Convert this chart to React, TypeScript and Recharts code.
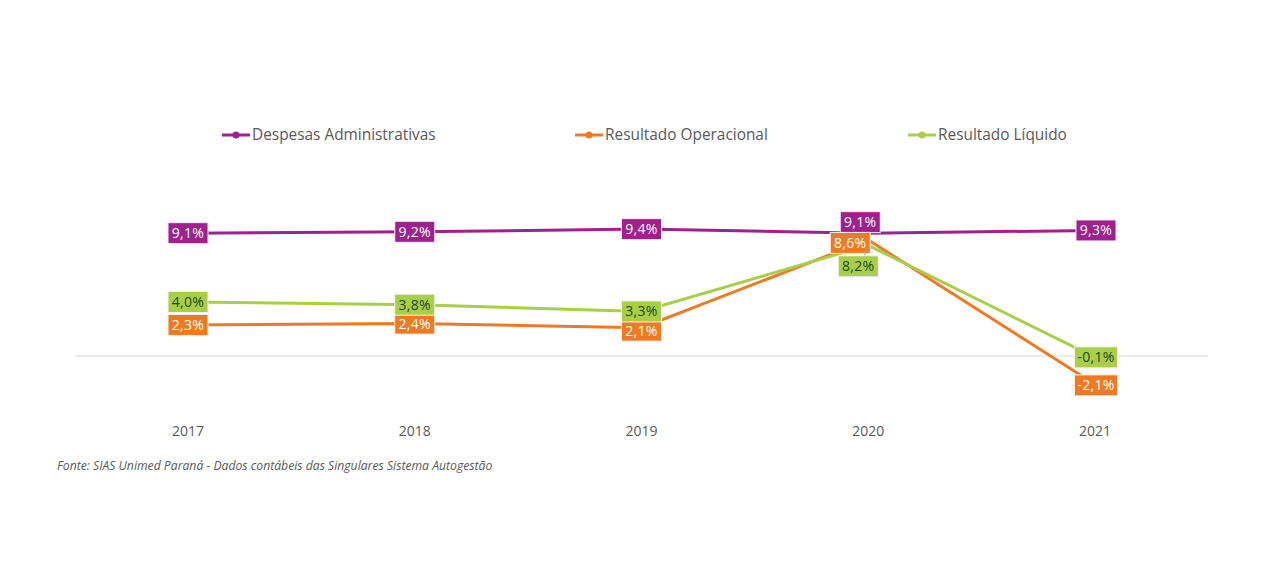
import { LabelList, Legend, Line, LineChart, ReferenceLine, XAxis, YAxis } from 'recharts';

const years = ['2017', '2018', '2019', '2020', '2021'];
const despesasAdministrativas = [9.1, 9.2, 9.4, 9.1, 9.3];
const resultadoOperacional = [2.3, 2.4, 2.1, 8.6, -2.1];
const resultadoLiquido = [4.0, 3.8, 3.3, 8.2, -0.1];
const seriesNames = ['Despesas Administrativas', 'Resultado Operacional', 'Resultado Líquido'];

const FONT = '"Open Sans", "Noto Sans", sans-serif';

const series = [
  { key: 'desp', name: seriesNames[0], color: '#A0218E', text: '#ffffff' },
  { key: 'oper', name: seriesNames[1], color: '#F07A22', text: '#ffffff' },
  { key: 'liq', name: seriesNames[2], color: '#A8CF47', text: '#1F4A12' },
];

// label offsets (dx, dy) from the point, as placed in the original
const labelShift: Record<string, [number, number][]> = {
  desp: [[0, 0], [0, 0], [0, 0], [-8, -11], [1, 0]],
  oper: [[0, 0], [0, 0], [0, 3], [-18, 3], [1, 1]],
  liq: [[0, 0], [0, 0], [0, 0], [-10, 21], [1, 0]],
};

const chartData = years.map((year, i) => ({
  year,
  desp: despesasAdministrativas[i],
  oper: resultadoOperacional[i],
  liq: resultadoLiquido[i],
}));

const fmt = (v: number) => `${v.toFixed(1).replace('.', ',')}%`;

const makeLabel = (key: string, fill: string, textColor: string) => (props: any) => {
  const { x, y, value, index } = props;
  const [dx, dy] = labelShift[key][index] || [0, 0];
  const text = fmt(Number(value));
  const w = text.length > 4 ? 43 : 40;
  const h = 21;
  const cx = x + dx;
  const cy = y + dy;
  return (
    <g>
      {Math.abs(dy) > 15 && (
        <line x1={cx + 6} y1={cy - h / 2} x2={x} y2={y} stroke="#a6a6a6" strokeWidth={1} />
      )}
      <rect x={cx - w / 2} y={cy - h / 2} width={w} height={h} fill={fill} stroke="#f2f2f2" strokeWidth={1} />
      <text
        x={cx}
        y={cy}
        dy={5}
        textAnchor="middle"
        fill={textColor}
        fontSize={14}
        fontFamily={FONT}
        letterSpacing={0.3}
      >
        {text}
      </text>
    </g>
  );
};

const legendPos = [222, 575, 908];

const CustomLegend = () => (
  <div style={{ position: 'relative', width: 1280, height: 24 }}>
    {series.map((s, i) => (
      <div
        key={s.key}
        style={{
          position: 'absolute',
          left: legendPos[i],
          top: 0,
          display: 'flex',
          alignItems: 'center',
          fontFamily: FONT,
          fontSize: 15.4,
          color: '#595959',
          whiteSpace: 'nowrap',
        }}
      >
        <svg width={30} height={20}>
          <line x1={0} y1={10} x2={28} y2={10} stroke={s.color} strokeWidth={3} />
          <circle cx={14} cy={10} r={3.5} fill={s.color} />
        </svg>
        <span>{s.name}</span>
      </div>
    ))}
  </div>
);

const YearTick = (props: any) => {
  const { x, y, payload } = props;
  return (
    <text x={x} y={y} dy={18} textAnchor="middle" fill="#595959" fontSize={14} fontFamily={FONT}>
      {payload.value}
    </text>
  );
};

export default function App() {
  return (
    <div style={{ position: 'absolute', left: 0, top: 0, width: 1280, height: 567, background: '#fff' }}>
      <LineChart width={1280} height={567} data={chartData} margin={{ top: 221, right: 72, bottom: 127, left: 75 }}>
        <XAxis
          dataKey="year"
          axisLine={false}
          tickLine={false}
          height={30}
          padding={{ left: 113, right: 113 }}
          tick={<YearTick />}
        />
        <YAxis hide domain={[-4, 10]} />
        <ReferenceLine y={0} stroke="#d9d9d9" strokeWidth={1} />
        <Legend
          layout="horizontal"
          verticalAlign="middle"
          align="center"
          wrapperStyle={{ top: 124, left: 0, width: 1280 }}
          content={<CustomLegend />}
        />
        {series.map((s) => (
          <Line
            key={s.key}
            type="linear"
            dataKey={s.key}
            name={s.name}
            stroke={s.color}
            strokeWidth={3}
            dot={false}
            activeDot={false}
            isAnimationActive={false}
          >
            <LabelList dataKey={s.key} content={makeLabel(s.key, s.color, s.text)} />
          </Line>
        ))}
      </LineChart>
      <div
        style={{
          position: 'absolute',
          left: 57,
          top: 457,
          fontFamily: FONT,
          fontStyle: 'italic',
          fontSize: 12.2,
          color: '#595959',
          whiteSpace: 'nowrap',
        }}
      >
        Fonte: SIAS Unimed Paraná - Dados contábeis das Singulares Sistema Autogestão
      </div>
    </div>
  );
}
